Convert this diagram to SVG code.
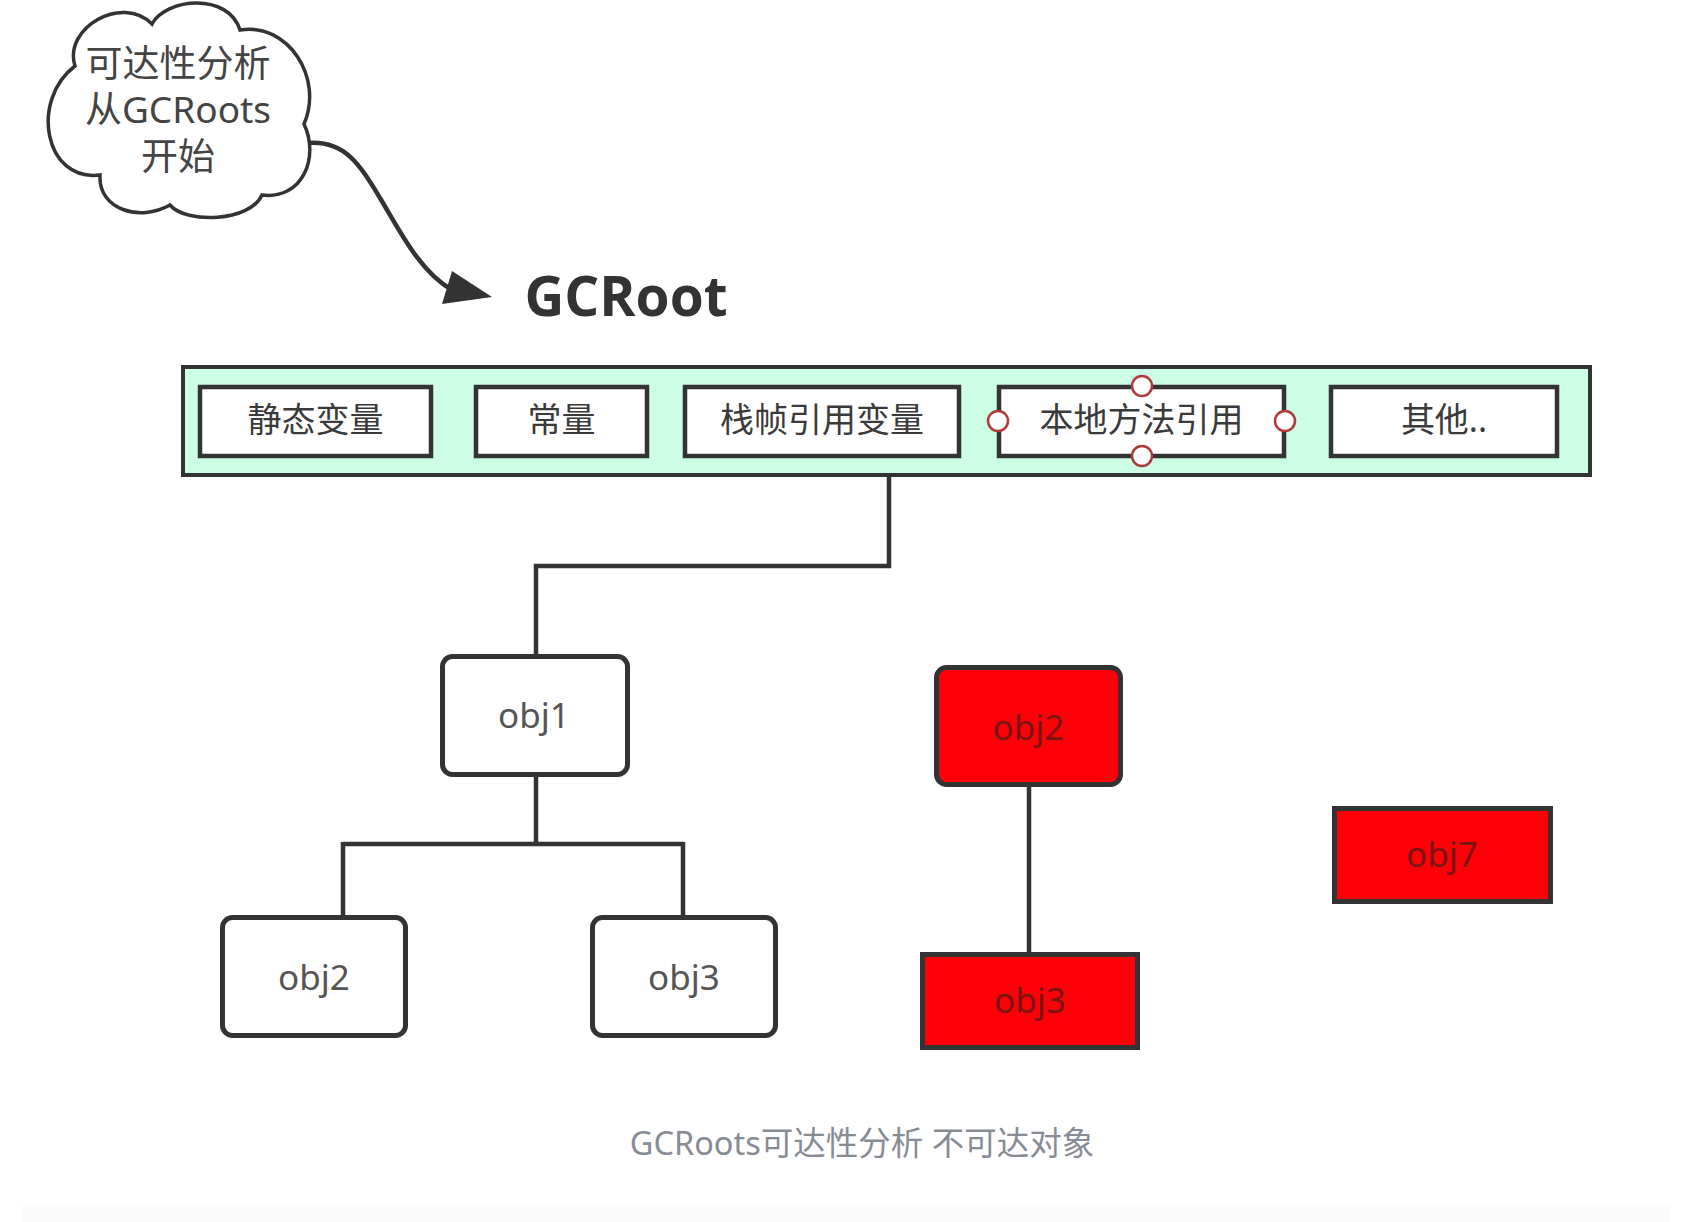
<svg xmlns="http://www.w3.org/2000/svg" width="1692" height="1222" viewBox="0 0 1692 1222">
<style>
  .t { font-family: "Noto Sans", "Noto Sans CJK SC", sans-serif; text-anchor: middle; }
  .root { fill: #ccfde5; stroke: #333; stroke-width: 4; }
  .item { fill: #fff; stroke: #333; stroke-width: 4.5; }
  .itxt { font-size: 34px; fill: #3a3a3a; }
  .obj { fill: #fff; stroke: #333; stroke-width: 5; }
  .otxt { font-size: 35px; fill: #555; }
  .dead { fill: #ff0009; stroke: #333; stroke-width: 5; }
  .dtxt { font-size: 35px; fill: #7a1414; }
  .handle { fill: #fff; stroke: #b03a3a; stroke-width: 2.5; }
  .wire { fill: none; stroke: #333; stroke-width: 4.5; }
</style>
<rect x="0" y="0" width="1692" height="1222" fill="#fff"/>
<rect x="22" y="1205" width="1648" height="17" fill="#fbfbfb"/>

<g id="cloud">
  <path d="M75,66 C63,28 122,-6 152,24 C166,-2 228,-8 240,30 C288,22 324,78 304,124 C320,158 302,200 262,195 C250,222 186,224 170,205 C140,222 98,210 100,175 C44,182 30,100 75,66 Z" fill="#fff" stroke="#333" stroke-width="3.5"/>
  <text class="t" font-size="37" fill="#444" x="178" y="77">可达性分析</text>
  <text class="t" font-size="37" fill="#444" x="178" y="123">从GCRoots</text>
  <text class="t" font-size="37" fill="#444" x="178" y="170">开始</text>
</g>

<g id="gcroot-title">
  <text x="626" y="316" font-family="'Open Sans', 'Liberation Sans', sans-serif" font-weight="700" font-size="55" fill="#333" text-anchor="middle">GCRoot</text>
</g>

<g id="gcroot-set">
  <rect class="root" x="183" y="367" width="1407" height="108"/>
</g>
<g id="static-var">
  <rect class="item" x="200" y="387" width="231" height="69"/>
  <text class="t itxt" x="315.5" y="432">静态变量</text>
</g>
<g id="constant">
  <rect class="item" x="476" y="387" width="171" height="69"/>
  <text class="t itxt" x="561.5" y="432">常量</text>
</g>
<g id="stack-frame-ref">
  <rect class="item" x="685" y="387" width="274" height="69"/>
  <text class="t itxt" x="822" y="432">栈帧引用变量</text>
</g>
<g id="native-method-ref">
  <rect class="item" x="999" y="387" width="285" height="69"/>
  <text class="t itxt" x="1141.5" y="432">本地方法引用</text>
  <circle class="handle" cx="1142" cy="386" r="10"/>
  <circle class="handle" cx="1142" cy="456" r="10"/>
  <circle class="handle" cx="998" cy="421" r="10"/>
  <circle class="handle" cx="1285" cy="421" r="10"/>
</g>
<g id="others">
  <rect class="item" x="1331" y="387" width="226" height="69"/>
  <text class="t itxt" x="1444" y="432">其他..</text>
</g>

<g id="connectors">
  <path class="wire" stroke-width="3.5" d="M308,143 C345,140 360,165 380,198 S420,272 452,290"/>
  <polygon points="452,271 492,297 442,304" fill="#333"/>
  <path class="wire" d="M889,477 V566 H536 V656"/>
  <path class="wire" d="M536,777 V844 M343,844 H683 M343,842 V917 M683,842 V917"/>
  <path class="wire" d="M1029,787 V954"/>
</g>

<g id="obj1">
  <rect class="obj" x="442.5" y="656.5" width="185" height="118" rx="10"/>
  <text class="t otxt" x="534" y="728">obj1</text>
</g>
<g id="obj2-live">
  <rect class="obj" x="222.5" y="917.5" width="183" height="118" rx="10"/>
  <text class="t otxt" x="314" y="990">obj2</text>
</g>
<g id="obj3-live">
  <rect class="obj" x="592.5" y="917.5" width="183" height="118" rx="10"/>
  <text class="t otxt" x="684" y="990">obj3</text>
</g>
<g id="obj2-dead">
  <rect class="dead" x="936.5" y="667.5" width="184" height="117" rx="10"/>
  <text class="t dtxt" x="1028.5" y="740">obj2</text>
</g>
<g id="obj3-dead">
  <rect class="dead" x="922.5" y="954.5" width="215" height="93"/>
  <text class="t dtxt" x="1030" y="1013">obj3</text>
</g>
<g id="obj7-dead">
  <rect class="dead" x="1334.5" y="808.5" width="216" height="93"/>
  <text class="t dtxt" x="1442" y="867">obj7</text>
</g>

<g id="caption">
  <text class="t" x="862" y="1155" font-size="32.5" fill="#878c94">GCRoots可达性分析 不可达对象</text>
</g>
</svg>
